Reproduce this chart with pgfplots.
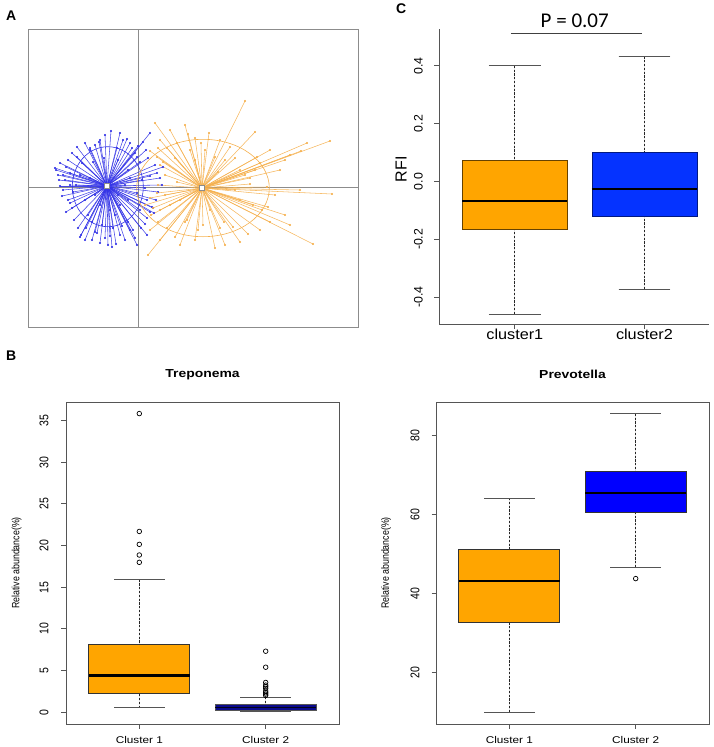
\documentclass[border=0pt]{standalone}
\usepackage{fontspec}
\setmainfont{Liberation Sans}
\newfontfamily\wideB[FakeStretch=1.2]{Liberation Sans}
\newfontfamily\narrowB[FakeStretch=0.833]{Liberation Sans}
\newfontfamily\wideC[FakeStretch=1.12]{Liberation Sans}
\newfontfamily\carlito{Carlito}
\usepackage{pgfplots}
\usepackage{pgfplotstable}
\pgfplotsset{compat=1.18}
\usepgfplotslibrary{statistics}
\definecolor{rorange}{HTML}{FFA500}
\definecolor{rnavy}{HTML}{0A0A8C}
\definecolor{rblue}{HTML}{0000FF}
\definecolor{cblue}{HTML}{0533FF}
\definecolor{aorange}{HTML}{F5B04E}
\definecolor{ablue}{HTML}{3232E6}
\definecolor{framegray}{HTML}{555555}
\definecolor{agray}{HTML}{8C8C8C}

\pgfplotstableread{
x y
111 131
150 133
77 147
55 168
60 163
63 190
68 200
72 208
80 237
112 247
137 245
147 235
154 213
163 167
143 142
100 140
90 150
70 173
97 233
125 240
133 230
152 207
157 173
137 157
99 142
123 140
127 139
77 157
56 170
63 175
73 192
70 203
81 235
95 232
102 225
108 245
120 235
130 230
147 218
153 208
147 200
137 193
142 180
150 176
140 162
135 153
117 148
90 148
82 163
93 162
65 180
85 200
88 215
115 215
120 205
128 170
118 160
104 158
76 185
60 186
105 238
140 210
158 192
162 185
85 240
132 148
68 160
92 222
113 228
145 188
58 175
62 196
66 212
74 220
78 228
86 228
92 240
100 243
110 236
116 244
122 226
128 222
135 238
141 228
145 224
150 212
156 200
160 178
155 165
148 158
146 150
138 146
130 143
120 133
105 135
95 145
85 143
72 153
66 167
59 180
70 185
80 175
90 178
95 195
118 195
125 185
130 178
100 205
110 210
128 200
}\bluepts

\pgfplotstableread{
x y
245 101
255 132
307 143
330 141
301 151
155 123
188 134
209 133
201 143
150 151
167 148
157 157
160 165
158 148
175 158
163 162
177 182
158 185
157 193
153 208
151 215
158 222
167 228
175 237
185 222
198 230
215 248
148 255
224 222
220 228
215 157
218 172
250 184
267 187
332 194
268 207
262 210
270 222
313 244
248 234
253 205
257 157
260 163
230 147
177 143
187 220
203 225
233 227
240 170
245 175
250 178
255 170
190 150
195 160
180 200
170 205
165 195
210 210
240 200
235 190
160 140
170 130
185 125
195 138
205 150
220 140
225 160
235 158
270 150
285 160
290 155
280 170
300 190
275 195
285 215
290 225
260 230
240 242
225 245
195 240
180 245
160 240
150 230
145 205
150 198
165 175
160 210
}\orangepts

\tikzset{
  whiskline/.style={black!85, line width=0.7bp, dash pattern=on 2.2bp off 1.6bp},
  capline/.style={framegray, line width=0.9bp},
}
\pgfplotsset{
  boxplot/draw direction=y,
  boxplot/draw/lower whisker/.code={%
    \draw[whiskline] (boxplot box cs:\pgfplotsboxplotvalue{lower whisker},0.5) -- (boxplot box cs:\pgfplotsboxplotvalue{lower quartile},0.5);
    \draw[capline] (boxplot whisker cs:\pgfplotsboxplotvalue{lower whisker},0) -- (boxplot whisker cs:\pgfplotsboxplotvalue{lower whisker},1);
  },
  boxplot/draw/upper whisker/.code={%
    \draw[whiskline] (boxplot box cs:\pgfplotsboxplotvalue{upper whisker},0.5) -- (boxplot box cs:\pgfplotsboxplotvalue{upper quartile},0.5);
    \draw[capline] (boxplot whisker cs:\pgfplotsboxplotvalue{upper whisker},0) -- (boxplot whisker cs:\pgfplotsboxplotvalue{upper whisker},1);
  },
  boxplot/every median/.style={black, line width=2.2bp},
  rbox/.style={
    scale only axis, anchor=north west, width=273bp, height=322bp,
    xmin=0.42, xmax=2.58, xtick={1,2}, xticklabels={Cluster 1,Cluster 2},
    axis line style={framegray, line width=0.9bp},
    tick style={framegray, line width=0.8bp},
    tick align=outside, major tick length=4.5bp, tick pos=left,
    xticklabel style={font=\wideB\fontsize{9.8bp}{11bp}\selectfont, anchor=base, inner sep=0pt},
    xticklabel shift=14.5bp,
    yticklabel style={font=\narrowB\fontsize{12.6bp}{13bp}\selectfont, rotate=90, anchor=center, inner sep=0pt},
    ylabel style={font=\narrowB\fontsize{10.6bp}{12bp}\selectfont, anchor=center, inner sep=0pt},
    title style={font=\wideB\bfseries\fontsize{11.6bp}{13bp}\selectfont, anchor=base, at={(0.5,1)}, inner sep=0pt},
    ylabel={Relative abundance(\%)},
  },
}

\begin{document}
\begin{tikzpicture}
\useasboundingbox (0,0) rectangle (714bp,-747bp);

% panel letters
\node[anchor=base west, inner sep=0pt, font=\bfseries\fontsize{14bp}{14bp}\selectfont] at (6bp,-20bp) {A};
\node[anchor=base west, inner sep=0pt, font=\bfseries\fontsize{14bp}{14bp}\selectfont] at (6bp,-360bp) {B};
\node[anchor=base west, inner sep=0pt, font=\bfseries\fontsize{14bp}{14bp}\selectfont] at (396bp,-13bp) {C};

% ---------------- Panel A ----------------
\begin{axis}[at={(28bp,-29bp)}, anchor=north west, scale only axis,
  width=330bp, height=298bp, xmin=28, xmax=358, ymin=29, ymax=327, y dir=reverse,
  axis line style={agray, line width=1bp}, xtick=\empty, ytick=\empty, clip=true]
\addplot[agray, line width=1bp] coordinates {(138,29) (138,327)};
\addplot[agray, line width=1bp] coordinates {(28,187) (358,187)};
\addplot[ablue, line width=0.55bp, opacity=0.9, quiver={u=\thisrow{x}-107, v=\thisrow{y}-186}] table[x expr=107, y expr=186] {\bluepts};
\addplot[only marks, mark=*, mark size=0.8bp, ablue] table[x=x, y=y] {\bluepts};
\draw[ablue, line width=0.6bp] (axis cs:107.8,186.7) ellipse [x radius=35.5, y radius=40];
\addplot[aorange, line width=0.55bp, opacity=0.9, quiver={u=\thisrow{x}-202, v=\thisrow{y}-188}] table[x expr=202, y expr=188] {\orangepts};
\addplot[only marks, mark=*, mark size=0.8bp, aorange] table[x=x, y=y] {\orangepts};
\draw[aorange, line width=0.6bp] (axis cs:203,188) ellipse [x radius=66.3, y radius=48.7];
\addplot[only marks, mark=square*, mark size=2.6bp, mark options={fill=white, draw=agray, line width=0.5bp}] coordinates {(107,186) (202,188)};
\node[font=\fontsize{4.5bp}{5bp}\selectfont, text=ablue, inner sep=0pt] at (axis cs:107,186) {2};
\node[font=\fontsize{4.5bp}{5bp}\selectfont, text=aorange, inner sep=0pt] at (axis cs:202,188) {1};
\end{axis}

% ---------------- Panel C ----------------
\begin{axis}[at={(439bp,-29bp)}, anchor=north west, scale only axis,
  width=270bp, height=295bp, xmin=0.415, xmax=2.498, ymin=-0.4925, ymax=0.527,
  axis x line*=bottom, axis y line*=left,
  axis line style={framegray, line width=0.9bp},
  tick style={framegray, line width=0.8bp},
  tick align=outside, major tick length=5bp,
  xtick={1,2}, xticklabels={cluster1,cluster2},
  ytick={-0.4,-0.2,0,0.2,0.4}, yticklabels={-0.4,-0.2,0.0,0.2,0.4},
  xticklabel style={font=\wideC\fontsize{14.5bp}{16bp}\selectfont, anchor=base, inner sep=0pt},
  xticklabel shift=10.5bp,
  yticklabel style={font=\fontsize{12.3bp}{13bp}\selectfont, rotate=90, anchor=center, inner sep=0pt},
  yticklabel shift=15.5bp,
  ylabel={RFI},
  ylabel style={font=\fontsize{16bp}{17bp}\selectfont, anchor=center, inner sep=0pt, at={(axis description cs:-0.1407,0.524)}},
  clip=false]
\addplot[boxplot prepared={lower whisker=-0.458, lower quartile=-0.165, median=-0.067, upper quartile=0.074, upper whisker=0.40, draw position=1, box extend=0.81, whisker extend=0.40}, fill=rorange, draw=black!60!rorange, line width=0.8bp, boxplot/every median/.style={black, line width=1.6bp}] coordinates {};
\addplot[boxplot prepared={lower whisker=-0.372, lower quartile=-0.119, median=-0.025, upper quartile=0.102, upper whisker=0.432, draw position=2, box extend=0.81, whisker extend=0.40}, fill=cblue, draw=black!50!cblue, line width=0.8bp, boxplot/every median/.style={black, line width=1.6bp}] coordinates {};
\addplot[black!75, line width=0.9bp] coordinates {(0.97,0.513) (1.98,0.513)};
\node[anchor=base, inner sep=0pt, font=\carlito\fontsize{21bp}{22bp}\selectfont] at (axis cs:1.462,0.5316) {P = 0.07};
\end{axis}

% ---------------- Panel B left: Treponema ----------------
\begin{axis}[rbox, at={(66bp,-402bp)}, ymin=-1.43, ymax=37.23,
  ytick={0,5,10,15,20,25,30,35}, yticklabels={0,5,10,15,20,25,30,35},
  yticklabel shift=17.5bp,
  ylabel style={at={(axis description cs:-0.1806,0.5)}},
  title={Treponema}, title style={yshift=19bp}]
\addplot[boxplot prepared={lower whisker=0.52, lower quartile=2.28, median=4.39, upper quartile=8.15, upper whisker=15.9, draw position=1, box extend=0.8, whisker extend=0.4}, fill=rorange, draw=black!80, line width=0.9bp, mark=o, mark size=2.3bp, mark options={solid, draw=black, fill=none, line width=0.7bp}] coordinates {(0,17.98) (0,18.86) (0,20.14) (0,21.69) (0,35.84)};
\addplot[boxplot prepared={lower whisker=0.03, lower quartile=0.24, median=0.56, upper quartile=0.88, upper whisker=1.80, draw position=2, box extend=0.8, whisker extend=0.4}, fill=rnavy, draw=framegray, line width=0.7bp, boxplot/every median/.style={black!80!rnavy, line width=1.1bp}, mark=o, mark size=2.3bp, mark options={solid, draw=black, fill=none, line width=0.7bp}] coordinates {(0,2.0) (0,2.16) (0,2.32) (0,2.52) (0,2.84) (0,3.04) (0,3.24) (0,3.56) (0,5.39) (0,7.31)};
\end{axis}

% ---------------- Panel B right: Prevotella ----------------
\begin{axis}[rbox, at={(436bp,-402bp)}, ymin=7.05, ymax=88.45,
  ytick={20,40,60,80}, yticklabels={20,40,60,80},
  yticklabel shift=16.5bp,
  ylabel style={at={(axis description cs:-0.183,0.5)}},
  title={Prevotella}, title style={yshift=18bp}]
\addplot[boxplot prepared={lower whisker=10.07, lower quartile=32.70, median=43.22, upper quartile=51.13, upper whisker=64.17, draw position=1, box extend=0.8, whisker extend=0.4}, fill=rorange, draw=black!80, line width=0.9bp] coordinates {};
\addplot[boxplot prepared={lower whisker=46.67, lower quartile=60.56, median=65.35, upper quartile=70.82, upper whisker=85.46, draw position=2, box extend=0.8, whisker extend=0.4}, fill=rblue, draw=black!80, line width=0.9bp, mark=o, mark size=2.3bp, mark options={solid, draw=black, fill=none, line width=0.7bp}] coordinates {(0,43.81)};
\end{axis}
\end{tikzpicture}
\end{document}
